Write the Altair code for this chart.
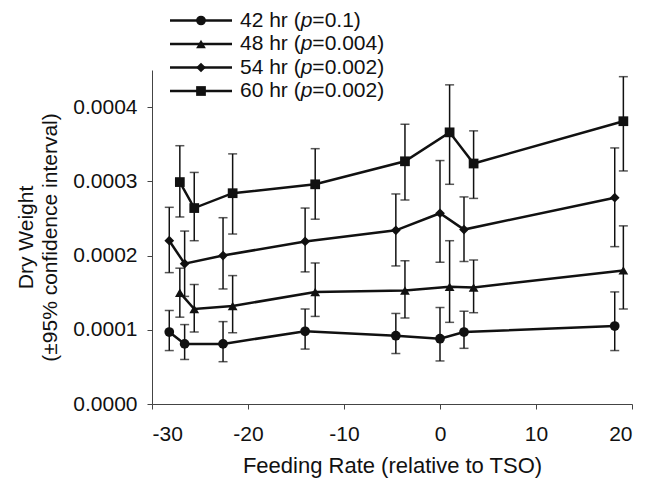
import altair as alt
import pandas as pd

# ---- data (values in units of 1e-4) ----
series = ["42 hr", "48 hr", "54 hr", "60 hr"]
p_values = ["0.1", "0.004", "0.002", "0.002"]
shapes = ["circle", "triangle-up", "diamond", "square"]

x_42_54 = [-28.2, -26.6, -22.6, -14.05, -4.6, 0.0, 2.5, 18.2]
x_48_60 = [-27.1, -25.6, -21.6, -13.0, -3.65, 1.0, 3.5, 19.1]

mean_42 = [0.97, 0.81, 0.81, 0.98, 0.92, 0.88, 0.97, 1.05]
lo_42 = [0.72, 0.60, 0.57, 0.74, 0.68, 0.58, 0.75, 0.72]
hi_42 = [1.26, 1.07, 1.11, 1.28, 1.22, 1.30, 1.25, 1.51]

mean_48 = [1.50, 1.28, 1.32, 1.51, 1.53, 1.58, 1.57, 1.80]
lo_48 = [1.17, 0.97, 0.96, 1.18, 1.16, 1.10, 1.23, 1.28]
hi_48 = [1.83, 1.61, 1.73, 1.90, 1.93, 2.20, 1.94, 2.40]

mean_54 = [2.20, 1.89, 2.00, 2.19, 2.34, 2.57, 2.35, 2.78]
lo_54 = [1.77, 1.45, 1.55, 1.78, 1.86, 1.91, 1.92, 2.12]
hi_54 = [2.65, 2.33, 2.51, 2.64, 2.83, 3.28, 2.79, 3.45]

mean_60 = [2.99, 2.64, 2.84, 2.96, 3.27, 3.66, 3.24, 3.81]
lo_60 = [2.52, 2.20, 2.29, 2.49, 2.75, 2.96, 2.77, 3.14]
hi_60 = [3.48, 3.12, 3.37, 3.44, 3.77, 4.30, 3.68, 4.41]

x_ticks = [-30, -20, -10, 0, 10, 20]
y_ticks = [0.0, 0.0001, 0.0002, 0.0003, 0.0004]

rows = []
for s, xs, m, lo, hi in [
    ("42 hr", x_42_54, mean_42, lo_42, hi_42),
    ("48 hr", x_48_60, mean_48, lo_48, hi_48),
    ("54 hr", x_42_54, mean_54, lo_54, hi_54),
    ("60 hr", x_48_60, mean_60, lo_60, hi_60),
]:
    for xv, mv, lv, hv in zip(xs, m, lo, hi):
        rows.append({"series": s, "x": xv, "y": mv * 1e-4, "lo": lv * 1e-4, "hi": hv * 1e-4})
df = pd.DataFrame(rows)

FONT = "Liberation Sans"
FS = 21
INK = "#111111"

xscale = alt.Scale(domain=[-30, 20], nice=False, zero=False)
yscale = alt.Scale(domain=[0, 0.00045], nice=False)

X = alt.X(
    "x:Q",
    scale=xscale,
    axis=alt.Axis(
        values=x_ticks,
        labelExpr="toString(datum.value)",
        title="Feeding Rate (relative to TSO)",
        titlePadding=11,
        labelPadding=14,
        titleFontSize=22,
    ),
)
Y = alt.Y(
    "y:Q",
    scale=yscale,
    axis=alt.Axis(
        values=y_ticks,
        format=".4f",
        title=["Dry Weight", "(±95% confidence interval)"],
        titlePadding=12,
        titleLineHeight=24,
        labelPadding=10,
    ),
)

base = alt.Chart(df)

lines = base.mark_line(color=INK, strokeWidth=2.5).encode(x=X, y=Y, detail="series:N")
bars = base.mark_rule(color=INK, strokeWidth=1.5).encode(x=X, y=alt.Y("lo:Q", scale=yscale), y2="hi:Q")
cap_lo = base.mark_tick(color=INK, orient="horizontal", size=9, thickness=1.5).encode(
    x=X, y=alt.Y("lo:Q", scale=yscale)
)
cap_hi = base.mark_tick(color=INK, orient="horizontal", size=9, thickness=1.5).encode(
    x=X, y=alt.Y("hi:Q", scale=yscale)
)
points = base.mark_point(filled=True, opacity=1, size=95, color=INK).encode(
    x=X,
    y=Y,
    shape=alt.Shape("series:N", scale=alt.Scale(domain=series, range=shapes), legend=None),
)

# ---- manual legend (pixel offsets relative to plot area) ----
legend_layers = []
row_y = [-49.5, -26, -2.5, 21]
line_x1, line_x2, mark_x, text_x = 18, 80, 49, 88
w_prefix = 2.89 * FS
w_p = 0.556 * FS
one = alt.Data(values=[{"k": 1}])
for i, s in enumerate(series):
    yv = row_y[i]
    legend_layers.append(
        alt.Chart(one).mark_rule(color=INK, strokeWidth=2.5).encode(
            x=alt.value(line_x1), x2=alt.value(line_x2), y=alt.value(yv)
        )
    )
    legend_layers.append(
        alt.Chart(one).mark_point(filled=True, opacity=1, size=95, color=INK, shape=shapes[i]).encode(
            x=alt.value(mark_x), y=alt.value(yv)
        )
    )
    legend_layers.append(
        alt.Chart(one).mark_text(align="left", baseline="middle", font=FONT, fontSize=FS, color=INK).encode(
            x=alt.value(text_x), y=alt.value(yv), text=alt.value(s + " (")
        )
    )
    legend_layers.append(
        alt.Chart(one).mark_text(
            align="left", baseline="middle", font=FONT, fontSize=FS, fontStyle="italic", color=INK
        ).encode(x=alt.value(text_x + w_prefix), y=alt.value(yv), text=alt.value("p"))
    )
    legend_layers.append(
        alt.Chart(one).mark_text(align="left", baseline="middle", font=FONT, fontSize=FS, color=INK).encode(
            x=alt.value(text_x + w_prefix + w_p), y=alt.value(yv), text=alt.value("=" + p_values[i] + ")")
        )
    )

chart = (
    alt.layer(lines, bars, cap_lo, cap_hi, points, *legend_layers)
    .properties(
        width=480,
        height=334,
        autosize=alt.AutoSizeParams(type="none"),
        padding={"left": 144, "top": 62, "right": 5, "bottom": 79},
    )
    .configure_view(stroke=None)
    .configure_axis(
        grid=False,
        domainColor="#444444",
        tickColor="#444444",
        domainWidth=1,
        tickWidth=1,
        tickSize=5,
        labelFont=FONT,
        labelFontSize=FS,
        labelColor=INK,
        titleFont=FONT,
        titleFontSize=FS,
        titleColor=INK,
        titleFontWeight="normal",
    )
)

chart.save("out.html", embed_options={"renderer": "svg", "actions": False})
